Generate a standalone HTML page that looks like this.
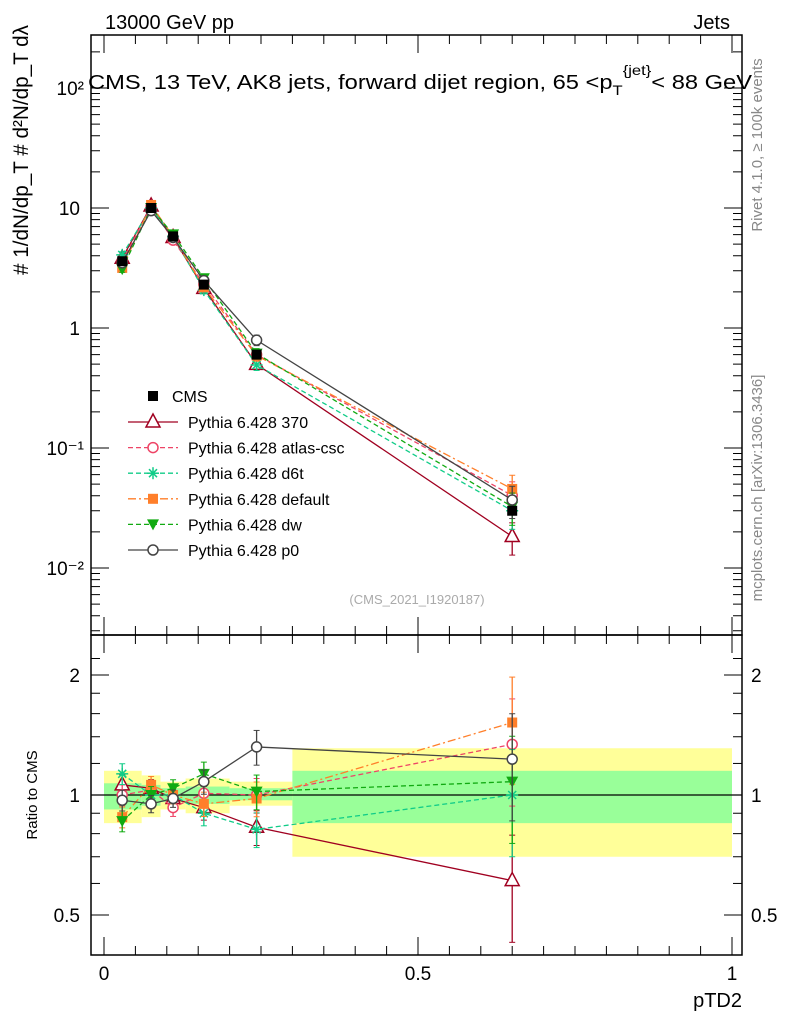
<!DOCTYPE html>
<html><head><meta charset="utf-8"><style>
body{margin:0;background:#fff;font-family:"Liberation Sans",sans-serif}
svg text{font-family:"Liberation Sans",sans-serif}
</style></head><body>
<svg id="s" width="786" height="1024" xmlns="http://www.w3.org/2000/svg">
<text x="105" y="29" font-size="20">13000 GeV pp</text>
<text x="730" y="29" font-size="20" text-anchor="end">Jets</text>
<text x="88" y="89" font-size="20" textLength="664" lengthAdjust="spacingAndGlyphs">CMS, 13 TeV, AK8 jets, forward dijet region, 65 &lt;p<tspan font-size="14" dy="6">T</tspan><tspan font-size="14" dy="-20">{jet}</tspan><tspan dy="14">&lt; 88 GeV</tspan></text>
<text x="417" y="604" font-size="13" fill="#aaa" text-anchor="middle">(CMS_2021_I1920187)</text>
<text transform="translate(762,145) rotate(-90)" font-size="15" fill="#888" text-anchor="middle">Rivet 4.1.0, ≥ 100k events</text>
<text transform="translate(762,488) rotate(-90)" font-size="15" fill="#888" text-anchor="middle">mcplots.cern.ch [arXiv:1306.3436]</text>
<text transform="translate(28,150) rotate(-90)" font-size="21" text-anchor="middle" textLength="250" lengthAdjust="spacingAndGlyphs"># 1/dN/dp_T  # d²N/dp_T dλ</text>
<text transform="translate(37,795) rotate(-90)" font-size="15" text-anchor="middle">Ratio to CMS</text>
<text x="742" y="1007" font-size="20" text-anchor="end">pTD2</text>
<g id="g"></g>
</svg>
<script>
const xVals=[0.029,0.075,0.110,0.159,0.243,0.650];
const binEdges=[0,0.06,0.09,0.13,0.2,0.3,1.0];
const cmsVals=[3.6,10,5.8,2.3,0.6,0.03];
const bandYellowHi=[1.15,1.12,1.08,1.10,1.08,1.31];
const bandYellowLo=[0.85,0.88,0.92,0.90,0.94,0.70];
const bandGreenHi=[1.07,1.06,1.04,1.05,1.04,1.15];
const bandGreenLo=[0.92,0.94,0.96,0.95,0.97,0.85];
const r370=[1.06,1.04,0.98,0.93,0.83,0.61];
const rAtlas=[1.0,1.03,0.93,1.01,1.0,1.34];
const rD6t=[1.13,1.0,1.0,0.90,0.82,1.0];
const rDefault=[0.88,1.06,1.0,0.95,0.98,1.52];
const rDw=[0.86,1.0,1.04,1.13,1.02,1.08];
const rP0=[0.97,0.95,0.98,1.08,1.32,1.23];
const ratioErr=[0.06,0.05,0.05,0.07,0.1,0.3];
const yTickLabels=["10⁻²","10⁻¹","1","10","10²"];
const NS="http://www.w3.org/2000/svg";
const g=document.getElementById('g');
const L=91,R=742,T=35,M=635,B=955;
const X=v=>104+628*v;
const Y=v=>328-120*Math.log10(v);
const YR=v=>795-120*Math.log2(v);
function el(t,a,p){const e=document.createElementNS(NS,t);for(const k in a)e.setAttribute(k,a[k]);(p||g).appendChild(e);return e;}
binEdges.slice(0,-1).forEach((e0,i)=>{
 const y=el('rect',{x:X(e0),y:YR(bandYellowHi[i]),width:X(binEdges[i+1])-X(e0),height:YR(bandYellowLo[i])-YR(bandYellowHi[i]),fill:'#ffff99'});
 
 
 const gr=el('rect',{x:X(e0),y:YR(bandGreenHi[i]),width:X(binEdges[i+1])-X(e0),height:YR(bandGreenLo[i])-YR(bandGreenHi[i]),fill:'#99ff99'});
 
 
});
el('line',{x1:L,x2:R,y1:YR(1),y2:YR(1),stroke:'#000','stroke-width':1.3});
el('rect',{x:L,y:T,width:R-L,height:M-T,fill:'none',stroke:'#000','stroke-width':1.5});
el('rect',{x:L,y:M,width:R-L,height:B-M,fill:'none',stroke:'#000','stroke-width':1.5});
for(let d=-3;d<=2;d++){for(let m=1;m<10;m++){const v=m*Math.pow(10,d);const y=Y(v);if(y<T||y>M)continue;const len=m==1?18:9;
 el('line',{x1:L,x2:L+len,y1:y,y2:y,stroke:'#000'});el('line',{x1:R,x2:R-len,y1:y,y2:y,stroke:'#000'});}}
yTickLabels.forEach((t,i)=>{const v=Math.pow(10,i-2);const tx=el('text',{x:v==1||v==10?80:84,y:Y(v)+7,'font-size':19,'text-anchor':'end'});tx.textContent=t;
 
 });
[0.5,0.6,0.7,0.8,0.9,1,1.2,1.4,1.6,1.8,2,2.2].forEach(v=>{const y=YR(v);if(y<M||y>B)return;const len=(v==0.5||v==1||v==2)?18:9;
 el('line',{x1:L,x2:L+len,y1:y,y2:y,stroke:'#000'});el('line',{x1:R,x2:R-len,y1:y,y2:y,stroke:'#000'});});
[[2,'2'],[1,'1'],[0.5,'0.5']].forEach(([v,t])=>{for(const xx of [80,751]){const tx=el('text',{x:xx,y:YR(v)+7,'font-size':19,'text-anchor':xx==80?'end':'start'});tx.textContent=t;
 
 }});
for(let i=0;i<=20;i++){const v=i*0.05;const x=X(v);const len=i%10==0?18:9;
 [[M,-1],[B,-1],[T,1],[M,1]].forEach(([y0,s])=>el('line',{x1:x,x2:x,y1:y0,y2:y0+s*len,stroke:'#000'}));}
[[0,'0'],[0.5,'0.5'],[1,'1']].forEach(([v,t])=>{const tx=el('text',{x:X(v),y:980,'font-size':19,'text-anchor':'middle'});tx.textContent=t;
 
 });
const series=[
 {n:'pythia-370',r:r370,c:'#a00020',dash:'',m:'tri',label:'Pythia 6.428 370'},
 {n:'pythia-atlas-csc',r:rAtlas,c:'#ee4466',dash:'5,3',m:'circ',label:'Pythia 6.428 atlas-csc'},
 {n:'pythia-d6t',r:rD6t,c:'#11cc88',dash:'5,3',m:'star',label:'Pythia 6.428 d6t'},
 {n:'pythia-default',r:rDefault,c:'#ff7f2a',dash:'8,3,2,3',m:'sq',label:'Pythia 6.428 default'},
 {n:'pythia-dw',r:rDw,c:'#11aa11',dash:'5,3',m:'dtri',label:'Pythia 6.428 dw'},
 {n:'pythia-p0',r:rP0,c:'#444',dash:'',m:'circ',label:'Pythia 6.428 p0'}];
function marker(m,x,y,c,par){
 if(m=='tri')return el('polygon',{points:`${x},${y-8} ${x-7},${y+5} ${x+7},${y+5}`,fill:'#fff',stroke:c,'stroke-width':1.5},par);
 if(m=='circ')return el('circle',{cx:x,cy:y,r:5,fill:'#fff',stroke:c,'stroke-width':1.5},par);
 if(m=='sq')return el('rect',{x:x-5,y:y-5,width:10,height:10,fill:c},par);
 if(m=='dtri')return el('polygon',{points:`${x-6},${y-5} ${x+6},${y-5} ${x},${y+6}`,fill:c},par);
 if(m=='star'){const p=el('g',{},par);[[0,-6,0,6],[-6,0,6,0],[-4,-4,4,4],[-4,4,4,-4]].forEach(a=>el('line',{x1:x+a[0],y1:y+a[1],x2:x+a[2],y2:y+a[3],stroke:c,'stroke-width':1.5},p));return p;}
 if(m=='bsq')return el('rect',{x:x-5,y:y-5,width:10,height:10,fill:'#000'},par);
}
series.forEach((s,si)=>{
 const grp=el('g',{});
 
 
 const main=xVals.map((x,i)=>[X(x),Y(cmsVals[i]*s.r[i])]);
 const rat=xVals.map((x,i)=>[X(x),YR(s.r[i])]);
 [main,rat].forEach((pts,k)=>{
  el('polyline',{points:pts.map(p=>p.join(',')).join(' '),fill:'none',stroke:s.c,'stroke-width':1.3,'stroke-dasharray':s.dash},grp);
  pts.forEach((p,i)=>{const e=ratioErr[i];const v=cmsVals[i]*s.r[i];
   const y1=k?YR(s.r[i]*(1+e)):Y(v*(1+e)),y2=k?YR(s.r[i]*(1-e)):Y(v*(1-e));
   el('line',{x1:p[0],x2:p[0],y1:y1,y2:y2,stroke:s.c,'stroke-width':1.3},grp);
   el('line',{x1:p[0]-3,x2:p[0]+3,y1:y1,y2:y1,stroke:s.c},grp);el('line',{x1:p[0]-3,x2:p[0]+3,y1:y2,y2:y2,stroke:s.c},grp);
   marker(s.m,p[0],p[1],s.c,grp);});
 });
});
xVals.forEach((x,i)=>{const m=marker('bsq',X(x),Y(cmsVals[i]),'#000');
 
 });
const lg=el('g',{});


marker('bsq',153,396,'#000',lg);
const t0=el('text',{x:172,y:402,'font-size':16},lg);t0.textContent='CMS';
series.forEach((s,i)=>{const y=422+i*25.6;
 el('line',{x1:128,x2:178,y1:y,y2:y,stroke:s.c,'stroke-width':1.3,'stroke-dasharray':s.dash},lg);
 marker(s.m,153,y,s.c,lg);
 const t=el('text',{x:188,y:y+6,'font-size':16},lg);t.textContent=s.label;
 
 });
</script>
</body></html>
